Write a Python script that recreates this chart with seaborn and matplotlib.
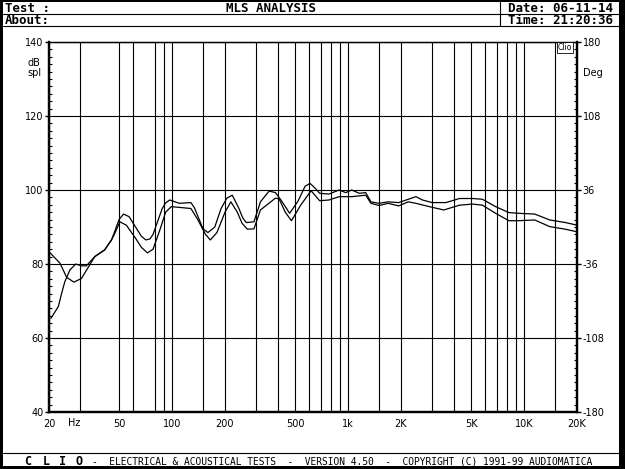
import matplotlib
matplotlib.use("Agg")
import matplotlib.pyplot as plt
from matplotlib.patches import Rectangle
from matplotlib.lines import Line2D
from matplotlib.ticker import MultipleLocator, FixedLocator, NullFormatter
import seaborn as sns
import pandas as pd

# --- data (Hz, dB SPL) ---
freq_a = [20.3, 23.1, 25.2, 27.7, 30.6, 33.4, 36.4, 41.4, 45.3, 47,
          50, 53, 57, 63, 67, 71, 75, 78, 85, 88, 92, 97, 110,
          128, 134, 140, 150, 160, 175, 190, 205, 220, 240, 252, 264,
          292, 318, 356, 387, 420, 466, 520, 570, 608, 650,
          690, 780, 890, 970, 1050, 1160, 1260, 1350, 1500, 1690,
          1940, 2200, 2430, 2650, 3000, 3600, 4300, 5100, 5800, 6900,
          8200, 9300, 11500, 14000, 17200, 20000]
spl_a = [83.0, 80.2, 76.4, 75.1, 76.1, 79.1, 82.0, 83.8, 86.5, 88.5,
         92.0, 93.5, 92.8, 89.5, 87.5, 86.5, 86.8, 88.0, 93.0, 95.0, 96.5, 97.3, 96.4,
         96.6, 95.2, 93.0, 89.5, 88.5, 90.0, 95.0, 97.8, 98.6, 95.0, 92.5, 91.2,
         91.4, 96.8, 99.7, 99.3, 97.0, 93.7, 97.0, 101.0, 101.8, 100.5,
         99.1, 98.9, 100.0, 99.3, 100.0, 99.1, 99.3, 96.8, 96.4, 96.8,
         96.6, 97.5, 98.2, 97.3, 96.6, 96.6, 97.7, 97.7, 97.5, 95.5,
         93.9, 93.7, 93.5, 91.9, 91.2, 90.5]

freq_b = [20.5, 22.6, 23.6, 24.6, 26.3, 28.4, 30.6, 32.6, 36.4, 41.4,
          45.3, 47, 50.5, 55, 62, 67, 72.5, 78, 85, 92, 99,
          110, 128, 140, 155, 165, 180, 200, 216, 235, 250, 268,
          292, 318, 387, 406, 440, 477, 540, 617, 690, 780,
          890, 1050, 1260, 1350, 1500, 1690, 1940, 2200, 2430, 2900,
          3500, 4300, 5100, 5800, 6900, 8200, 9300, 11500, 14000, 17200,
          20000]
spl_b = [65.3, 68.5, 72.1, 75.2, 78.4, 80.0, 79.5, 79.5, 82.0, 83.8,
         86.5, 88.0, 91.4, 90.5, 87.0, 84.5, 83.0, 84.0, 89.0, 94.0, 95.5,
         95.3, 95.0, 92.0, 88.0, 86.5, 88.5, 94.0, 96.8, 94.0, 91.0, 89.4,
         89.5, 94.6, 97.8, 97.6, 94.0, 91.7, 96.0, 99.8, 97.1, 97.3,
         98.2, 98.2, 98.6, 96.4, 95.8, 96.4, 95.7, 96.8, 96.4, 95.5,
         94.6, 95.9, 96.2, 95.9, 93.7, 91.7, 91.7, 91.9, 90.1, 89.4,
         88.7]

x_labeled = [20, 50, 100, 200, 500, 1000, 2000, 5000, 10000, 20000]
x_labels = ["20", "50", "100", "200", "500", "1k", "2K", "5K", "10K", "20K"]
x_grid = [30, 60, 80, 90, 150, 300, 400, 600, 700, 800, 900, 1500,
          3000, 4000, 6000, 7000, 8000, 9000, 15000]
spl_ticks = [40, 60, 80, 100, 120, 140]
deg_ticks = [-180, -108, -36, 36, 108, 180]

W, H = 625, 469
def px(x):
    return x / W
def py(y):
    return 1 - y / H

sns.set_style("white", {"axes.edgecolor": "black", "xtick.color": "black",
                        "ytick.color": "black", "text.color": "black"})
plt.rcParams['font.family'] = ['DejaVu Sans']

fig = plt.figure(figsize=(W / 100, H / 100), dpi=100)
fig.patch.set_facecolor("black")
fig.add_artist(Rectangle((px(3), py(466)), px(619) - px(3), py(2) - py(466),
                         transform=fig.transFigure, facecolor="white",
                         edgecolor="none", zorder=-5))
# header / footer rules
for yy in (14, 26, 453):
    fig.add_artist(Line2D([px(3), px(619)], [py(yy), py(yy)], color="black",
                          lw=0.8, transform=fig.transFigure))
fig.add_artist(Line2D([px(500), px(500)], [py(2), py(26)], color="black",
                      lw=0.8, transform=fig.transFigure))

mono = "DejaVu Sans Mono"
hdr = dict(family=mono, fontsize=9, fontweight="bold", va="center")
fig.text(px(5), py(8), "Test :", ha="left", **hdr)
fig.text(px(271), py(8), "MLS ANALYSIS", ha="center", **hdr)
fig.text(px(508), py(8), "Date: 06-11-14", ha="left", **hdr)
fig.text(px(5), py(20), "About:", ha="left", **hdr)
fig.text(px(508), py(20), "Time: 21:20:36", ha="left", **hdr)

# footer: spaced-out bold letters, then the notice
for letter, lx in zip("CLIO", (28, 46, 63, 79)):
    fig.text(px(lx), py(461), letter, ha="center", va="center", family=mono,
             fontsize=8.5, fontweight="bold")
fig.text(px(92), py(461),
         "-  ELECTRICAL & ACOUSTICAL TESTS  -  VERSION 4.50  -  COPYRIGHT (C) 1991-99 AUDIOMATICA",
         ha="left", va="center", family=mono, fontsize=6.9)

ax = fig.add_axes([px(49), py(412), px(577) - px(49), py(42) - py(412)])
ax.set_facecolor("white")

df = pd.concat([
    pd.DataFrame({"freq": freq_a, "spl": spl_a, "curve": "a"}),
    pd.DataFrame({"freq": freq_b, "spl": spl_b, "curve": "b"}),
])
sns.lineplot(data=df, x="freq", y="spl", units="curve", estimator=None,
             color="black", lw=0.9, ax=ax, legend=False, zorder=3)

ax.set_xscale("log")
ax.set_xlim(20, 20000)
ax.set_ylim(40, 140)
ax.set_xlabel("")
ax.set_ylabel("")

ax.xaxis.set_major_locator(FixedLocator(x_labeled))
ax.set_xticklabels(x_labels, fontsize=7)
ax.xaxis.set_minor_locator(FixedLocator(x_grid))
ax.xaxis.set_minor_formatter(NullFormatter())
ax.tick_params(axis="x", which="both", length=0, pad=5)

ax.set_yticks(spl_ticks)
ax.set_yticklabels([str(v) for v in spl_ticks], fontsize=7)
ax.yaxis.set_minor_locator(MultipleLocator(2))
ax.tick_params(axis="y", which="major", direction="out", length=3, width=1, pad=1)
ax.tick_params(axis="y", which="minor", direction="in", length=2.5, width=0.8)

ax.grid(True, which="both", axis="x", color="black", lw=0.8)
ax.grid(True, which="major", axis="y", color="black", lw=0.8)

ax2 = ax.twinx()
ax2.set_ylim(-180, 180)
ax2.set_yticks(deg_ticks)
ax2.set_yticklabels([str(v) for v in deg_ticks], fontsize=7)
ax2.yaxis.set_minor_locator(MultipleLocator(7.2))
ax2.tick_params(axis="y", which="major", direction="out", length=3, width=1, pad=1)
ax2.tick_params(axis="y", which="minor", direction="in", length=2.5, width=0.8)

for a in (ax, ax2):
    for side, sp in a.spines.items():
        sp.set_visible(True)
        sp.set_color("black")
        sp.set_linewidth(1.6 if side in ("left", "right", "bottom") else 0.9)

fig.text(px(27), py(63), "dB", ha="left", va="center", fontsize=7)
fig.text(px(27), py(73), "spl", ha="left", va="center", fontsize=7)
fig.text(px(583), py(73), "Deg", ha="left", va="center", fontsize=7)
fig.text(px(68), py(423), "Hz", ha="left", va="center", fontsize=7)
fig.text(px(565), py(47.5), "Clio", ha="center", va="center", fontsize=5.5,
         bbox=dict(boxstyle="square,pad=0.15", facecolor="white",
                   edgecolor="black", lw=0.6))

fig.savefig("out.png", dpi=100, facecolor=fig.get_facecolor())
